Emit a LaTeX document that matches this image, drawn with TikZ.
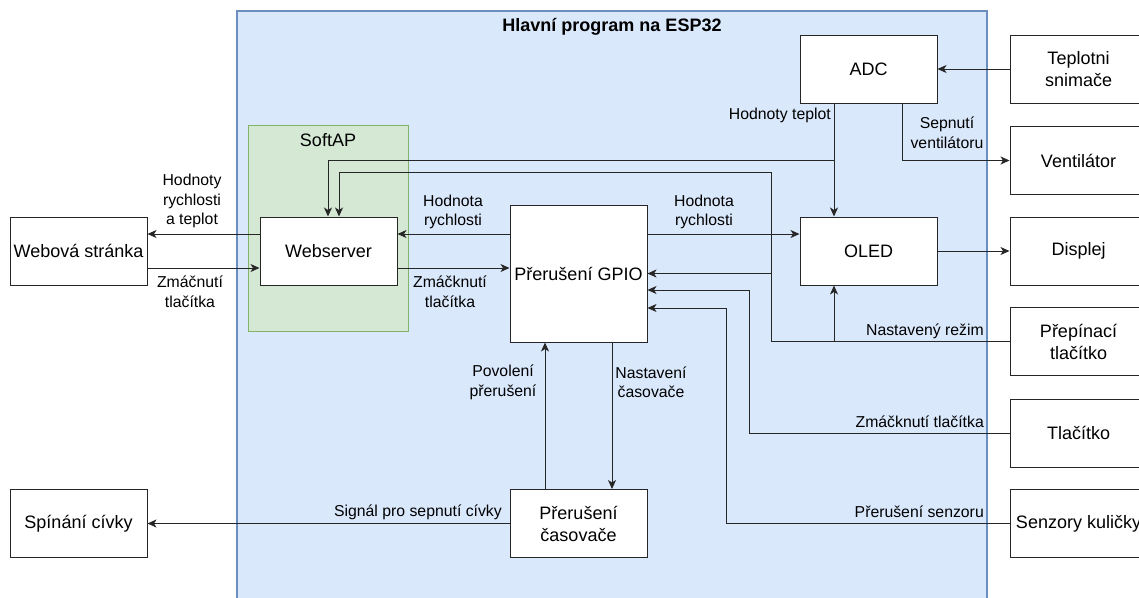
\documentclass[tikz,border=0pt]{standalone}
\usepackage{fontspec}
\setmainfont{Liberation Sans}
\usetikzlibrary{arrows.meta}
\definecolor{espfill}{HTML}{DAE8FC}
\definecolor{espdraw}{HTML}{6C8EBF}
\definecolor{apfill}{HTML}{D5E8D4}
\definecolor{apdraw}{HTML}{82B366}
\definecolor{ln}{HTML}{262626}
\tikzset{
  blk/.style={draw=ln, fill=white, line width=1pt, minimum width=137pt, minimum height=68pt,
    inner sep=0pt, align=center, font=\fontsize{18}{22}\selectfont},
  lbl/.style={font=\fontsize{15.8}{19.5}\selectfont, inner sep=0pt, align=center},
  conn/.style={draw=ln, line width=1pt, -{Stealth[length=9pt,width=8pt,inset=2.5pt]}},
}
\begin{document}
\begin{tikzpicture}[x=1pt,y=-1pt]
\useasboundingbox (0,0) rectangle (1139,597);
\clip (0,0) rectangle (1139,597);
% containers
\draw[fill=espfill, draw=espdraw, line width=2pt] (237,11) rectangle (987,640);
\node[font=\bfseries\fontsize{18}{22}\selectfont, inner sep=0pt] (title) at (612,27) {Hlavní program na ESP32};
\draw[fill=apfill, draw=apdraw, line width=1pt] (248,125) rectangle (408,331);
\node[font=\fontsize{18}{22}\selectfont, inner sep=0pt] (softap) at (328,140) {SoftAP};
% blocks
\node[blk] (adc) at (868.5,69) {ADC};
\node[blk] (tep) at (1078.5,69) {Teplotni\\snimače};
\node[blk] (vent) at (1078.5,160.5) {Ventilátor};
\node[blk] (disp) at (1078.5,251) {Displej};
\node[blk] (prep) at (1078.5,341.5) {Přepínací\\tlačítko};
\node[blk] (tlac) at (1078.5,433) {Tlačítko};
\node[blk] (senz) at (1078.5,523.5) {Senzory kuličky};
\node[blk] (oled) at (868.5,251) {OLED};
\node[blk, minimum height=137pt] (gpio) at (578.5,273.5) {Přerušení GPIO};
\node[blk] (cas) at (578.5,523.5) {Přerušení\\časovače};
\node[blk] (web) at (328.5,251) {Webserver};
\node[blk] (webst) at (78.5,251) {Webová stránka};
\node[blk] (spin) at (78.5,523.5) {Spínání cívky};
% helper coordinates
\coordinate (j1) at (771,341.5);
\coordinate (j2) at (834,341.5);
\coordinate (c1) at (771,172);
\coordinate (t1) at (749,433);
\coordinate (s1) at (726,523.5);
% connectors
\draw[conn] (tep.west) -- (adc.east);
\draw[conn] ([xshift=33.5pt]adc.south) |- (vent.west);
\draw[conn] ([xshift=-34.5pt]adc.south) -- ([xshift=-34.5pt]oled.north);
\draw[conn] ([xshift=-34.5pt]adc.south) -- ++(0,57) -| ([xshift=-0.5pt]web.north);
\draw[conn] (prep.west) -- (j1) -- (c1) -| ([xshift=10.5pt]web.north);
\draw[conn] (prep.west) -- (j1) |- (gpio.east);
\draw[conn] (prep.west) -- (j2) -- ([xshift=-34.5pt]oled.south);
\draw[conn] (tlac.west) -- (t1) |- ([yshift=-16.5pt]gpio.east);
\draw[conn] (senz.west) -- (s1) |- ([yshift=-34.5pt]gpio.east);
\draw[conn] ([yshift=39.5pt]gpio.east) -- ([yshift=39.5pt]gpio.east -| oled.west);
\draw[conn] ([yshift=39.5pt]gpio.west) -- ([yshift=39.5pt]gpio.west -| web.east);
\draw[conn] ([yshift=-17pt]web.east) -- ([yshift=-17pt]web.east -| gpio.west);
\draw[conn] ([yshift=17pt]web.west) -- ([yshift=17pt]web.west -| webst.east);
\draw[conn] ([yshift=-17pt]webst.east) -- ([yshift=-17pt]webst.east -| web.west);
\draw[conn] (oled.east) -- (disp.west);
\draw[conn] ([xshift=33.5pt]gpio.south) -- ([xshift=33.5pt]cas.north);
\draw[conn] ([xshift=-33.5pt]cas.north) -- ([xshift=-33.5pt]gpio.south);
\draw[conn] (cas.west) -- (spin.east);
% labels
\node[lbl, anchor=east] (l1) at (831,115) {Hodnoty teplot};
\node[lbl] (l2) at (947,133) {Sepnutí\\ventilátoru};
\node[lbl] (l3) at (192,201) {Hodnoty\\rychlosti\\a teplot};
\node[lbl] (l4) at (190,292) {Zmáčnutí\\tlačítka};
\node[lbl] (l5) at (453,212) {Hodnota\\rychlosti};
\node[lbl] (l6) at (450,292) {Zmáčknutí\\tlačítka};
\node[lbl] (l7) at (704,212) {Hodnota\\rychlosti};
\node[lbl, anchor=east] (l8) at (984,331) {Nastavený režim};
\node[lbl, anchor=east] (l9) at (984,422) {Zmáčknutí tlačítka};
\node[lbl, anchor=east] (l10) at (984,512) {Přerušení senzoru};
\node[lbl, anchor=east] (l11) at (502,512) {Signál pro sepnutí cívky};
\node[lbl] (l12) at (503,382.5) {Povolení\\přerušení};
\node[lbl] (l13) at (651,382.5) {Nastavení\\časovače};
\end{tikzpicture}
\end{document}
